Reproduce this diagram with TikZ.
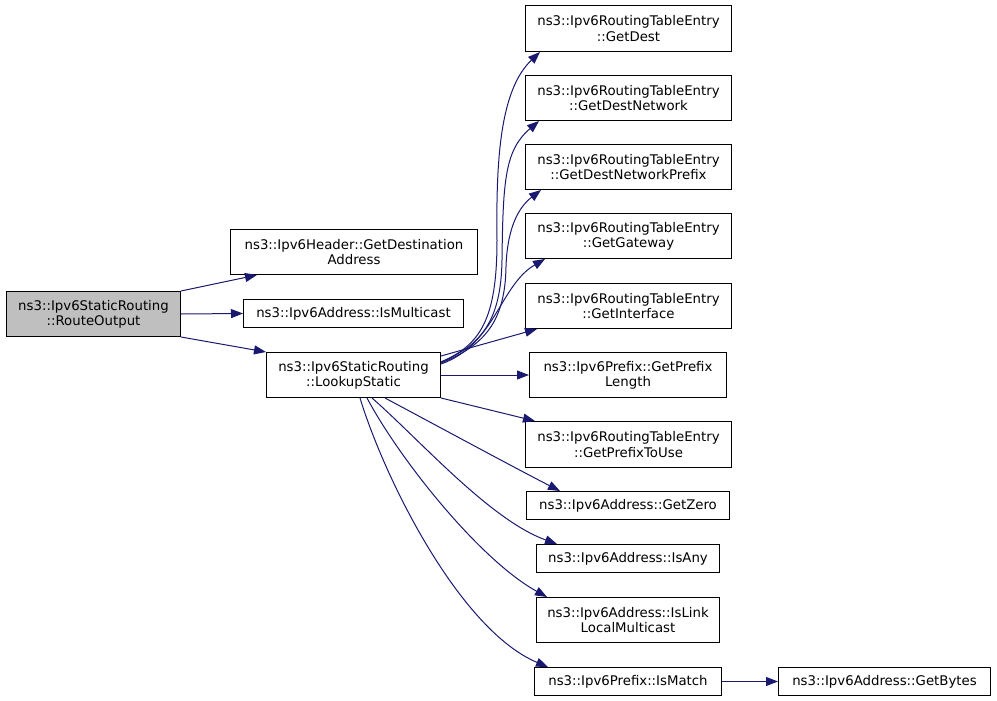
\documentclass[tikz,border=0pt]{standalone}
\usepackage{fontspec}
\setmainfont{DejaVu Sans}
\usetikzlibrary{arrows.meta,calc}
\definecolor{edgecol}{HTML}{191970}
\definecolor{grayfill}{HTML}{BFBFBF}
\begin{document}
\begin{tikzpicture}[x=1pt,y=-1pt,
  fn/.style={draw=black,line width=1pt,fill=white,anchor=north west,inner sep=0pt,align=center,
    font=\fontsize{13.3}{15.3}\selectfont},
  edge/.style={draw=edgecol,line width=1pt,-{Triangle[length=12pt,width=9pt]}}]
\useasboundingbox (0,0) rectangle (997,701);
% nodes
\node[fn,fill=grayfill,minimum width=174,minimum height=45] (ro) at (6,291) {ns3::Ipv6StaticRouting\\::RouteOutput};
\node[fn,minimum width=247,minimum height=45] (gda) at (230,229) {ns3::Ipv6Header::GetDestination\\Address};
\node[fn,minimum width=220,minimum height=28] (imc) at (243,299) {ns3::Ipv6Address::IsMulticast};
\node[fn,minimum width=174,minimum height=45] (ls) at (266,352) {ns3::Ipv6StaticRouting\\::LookupStatic};
\node[fn,minimum width=206,minimum height=46] (gd) at (525,5) {ns3::Ipv6RoutingTableEntry\\::GetDest};
\node[fn,minimum width=206,minimum height=45] (gdn) at (525,75) {ns3::Ipv6RoutingTableEntry\\::GetDestNetwork};
\node[fn,minimum width=206,minimum height=45] (gdnp) at (525,144) {ns3::Ipv6RoutingTableEntry\\::GetDestNetworkPrefix};
\node[fn,minimum width=206,minimum height=45] (gg) at (525,213) {ns3::Ipv6RoutingTableEntry\\::GetGateway};
\node[fn,minimum width=206,minimum height=45] (gi) at (525,283) {ns3::Ipv6RoutingTableEntry\\::GetInterface};
\node[fn,minimum width=197,minimum height=45] (gpl) at (529,352) {ns3::Ipv6Prefix::GetPrefix\\Length};
\node[fn,minimum width=206,minimum height=46] (gptu) at (525,421) {ns3::Ipv6RoutingTableEntry\\::GetPrefixToUse};
\node[fn,minimum width=203,minimum height=28] (gz) at (526,491) {ns3::Ipv6Address::GetZero};
\node[fn,minimum width=183,minimum height=28] (ia) at (536,544) {ns3::Ipv6Address::IsAny};
\node[fn,minimum width=183,minimum height=45] (illm) at (536,597) {ns3::Ipv6Address::IsLink\\LocalMulticast};
\node[fn,minimum width=187,minimum height=28] (ism) at (534,667) {ns3::Ipv6Prefix::IsMatch};
\node[fn,minimum width=212,minimum height=28] (gb) at (778,667) {ns3::Ipv6Address::GetBytes};
% edges from RouteOutput
\draw[edge] (ro.north east) -- ($(gda.south west)+(27,0)$);
\draw[edge] (ro.east) -- (imc.west);
\draw[edge] (ro.south east) -- (ls.north west);
% edges from LookupStatic (upper)
\draw[edge] ($(ls.north east)+(0,10)$) .. controls (480,345) and (497,320) .. (497,240)
  .. controls (496,160) and (500,90) .. ($(gd.south west)+(15,0)$);
\draw[edge] ($(ls.north east)+(0,10)$) .. controls (482,345) and (501,320) .. (502,260)
  .. controls (503,180) and (505,150) .. ($(gdn.south west)+(14,0)$);
\draw[edge] ($(ls.north east)+(0,11)$) .. controls (486,345) and (505,320) .. (506,267)
  .. controls (507,235) and (515,210) .. ($(gdnp.south west)+(16,0)$);
\draw[edge] ($(ls.north east)+(0,12)$) .. controls (495,345) and (500,285) .. ($(gg.south west)+(20,0)$);
\draw[edge] ($(ls.north east)+(0,4)$) -- ($(gi.south west)+(12,0)$);
\draw[edge] (ls.east) -- (gpl.west);
\draw[edge] (ls.south east) -- ($(gptu.north west)+(10,0)$);
% lower curves
\draw[edge] ($(ls.south west)+(119,0)$) .. controls (430,422) and (515,468) .. ($(gz.north west)+(34,0)$);
\draw[edge] ($(ls.south west)+(106,0)$) .. controls (420,440) and (490,520) .. ($(ia.north west)+(21,0)$);
\draw[edge] ($(ls.south west)+(101,0)$) .. controls (400,460) and (480,560) .. ($(illm.north west)+(11,0)$);
\draw[edge] ($(ls.south west)+(94,0)$) .. controls (385,480) and (460,630) .. ($(ism.north west)+(14,0)$);
\draw[edge] (ism.east) -- (gb.west);
\end{tikzpicture}
\end{document}
